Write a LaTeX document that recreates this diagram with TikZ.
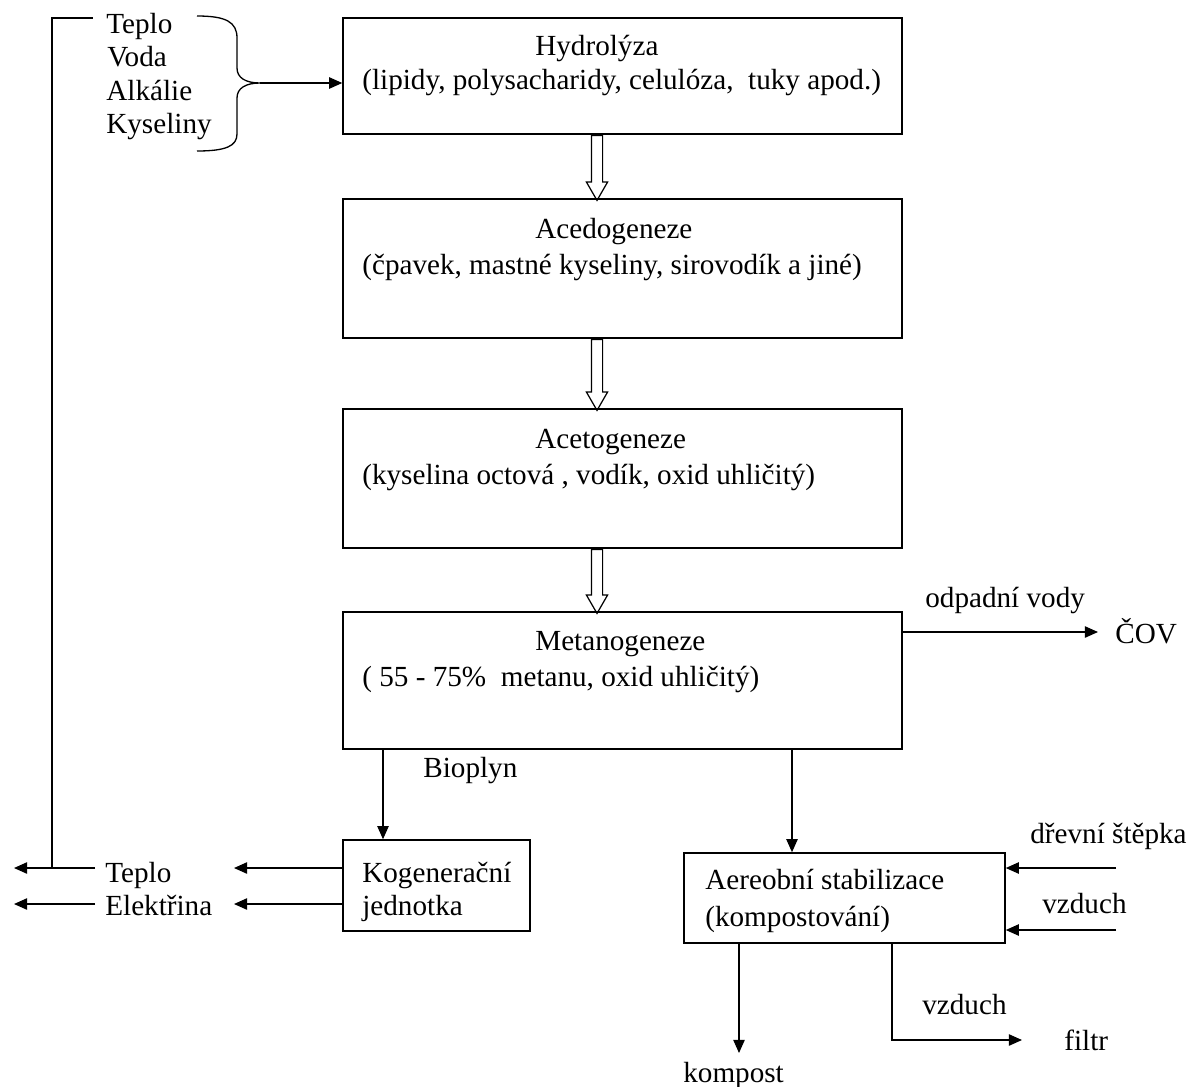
\documentclass[tikz,border=0pt]{standalone}
\usepackage{fontspec}
\setmainfont{Liberation Serif}
\usetikzlibrary{arrows.meta,shapes.arrows}

\tikzset{
  box/.style={draw, line width=0.9pt, rectangle, inner sep=0pt},
  lbl/.style={inner sep=0pt, anchor=base west},
  arr/.style={-{Triangle[length=7.5pt,width=6.5pt]}, line width=0.75pt},
  plain/.style={line width=0.75pt},
  hollow/.style={single arrow, draw, line width=0.7pt, shape border rotate=270,
    inner sep=0.1cm, single arrow head extend=0.1cm, single arrow tip angle=60,
    anchor=tail}
}

\begin{document}
\begin{tikzpicture}[x=0.02cm, y=-0.02cm, font=\fontsize{16.6}{20}\selectfont]
\useasboundingbox (0,0) rectangle (1200,1086);

% main chain
\node[box, minimum width=11.18cm, minimum height=2.32cm] (hyd) at (622.5,76) {};
\node[box, minimum width=11.18cm, minimum height=2.78cm] (ace) at (622.5,268.5) {};
\node[box, minimum width=11.18cm, minimum height=2.78cm] (act) at (622.5,478.5) {};
\node[box, minimum width=11.18cm, minimum height=2.74cm] (met) at (622.5,680.5) {};
\node[box, minimum width=3.74cm, minimum height=1.82cm] (kog) at (436.5,885.5) {};
\node[box, minimum width=6.42cm, minimum height=1.80cm] (aer) at (844.5,898) {};

\node[lbl] (hydT) at (535,55) {Hydrolýza};
\node[lbl] (hydD) at (362,89) {(lipidy, polysacharidy, celulóza,~ tuky apod.)};
\node[lbl] (aceT) at (535,238) {Acedogeneze};
\node[lbl] (aceD) at (362,274) {(čpavek, mastné kyseliny, sirovodík a jiné)};
\node[lbl] (actT) at (535,448) {Acetogeneze};
\node[lbl] (actD) at (362,484) {(kyselina octová , vodík, oxid uhličitý)};
\node[lbl] (metT) at (535,650) {Metanogeneze};
\node[lbl] (metD) at (362,686) {( 55 - 75\%~ metanu, oxid uhličitý)};
\node[lbl] (kogT) at (362,882) {Kogenerační};
\node[lbl] (kogD) at (362,915) {jednotka};
\node[lbl] (aerT) at (705,889) {Aereobní stabilizace};
\node[lbl] (aerD) at (705,926) {(kompostování)};

% inputs and outputs
\node[lbl] (teplo1) at (106,33) {Teplo};
\node[lbl] (voda) at (107,66) {Voda};
\node[lbl] (alk) at (106,100) {Alkálie};
\node[lbl] (kys) at (106,133) {Kyseliny};
\node[lbl] (teplo) at (105,882) {Teplo};
\node[lbl] (elek) at (105,915) {Elektřina};
\node[lbl] (bio) at (423,777) {Bioplyn};
\node[lbl] (odp) at (925,607) {odpadní vody};
\node[lbl] (cov) at (1115,643) {ČOV};
\node[lbl] (drev) at (1030,843) {dřevní štěpka};
\node[lbl] (vzd1) at (1042,913) {vzduch};
\node[lbl] (vzd2) at (922,1014) {vzduch};
\node[lbl] (filtr) at (1064,1050) {filtr};
\node[lbl] (komp) at (683,1082) {kompost};

% free ends
\coordinate (ha) at (597,0);
\coordinate (bx) at (383,0);
\coordinate (ax) at (792,0);
\coordinate (kx) at (739,0);
\coordinate (fx) at (892,0);
\coordinate (rowT) at (0,868);
\coordinate (rowE) at (0,904);
\coordinate (mid) at (234,0);
\coordinate (lst) at (95,0);
\coordinate (lft) at (14,0);
\coordinate (fb) at (52,0);
\coordinate (fbtop) at (93,18);
\coordinate (btip) at (260,83);
\coordinate (cy) at (0,632);
\coordinate (cend) at (1098,632);
\coordinate (win1) at (1116,868);
\coordinate (win2) at (1116,930);
\coordinate (kend) at (739,1053);
\coordinate (fend) at (1022,1040);

% brace
\draw[plain] (197,16) .. controls (226,16) and (237,22) .. (237,38) -- (237,68)
  .. controls (237,78) and (246,83) .. (btip)
  .. controls (246,83) and (237,88) .. (237,98) -- (237,134)
  .. controls (237,146) and (226,151) .. (197,151);
\draw[arr] (btip) -- (hyd.west |- btip);

% hollow arrows
\node[hollow, minimum height=1.30cm] (h1) at (hyd.south -| ha) {};
\node[hollow, minimum height=1.42cm] (h2) at (ace.south -| ha) {};
\node[hollow, minimum height=1.28cm] (h3) at (act.south -| ha) {};

% connectors
\draw[arr] (met.south -| bx) -- (kog.north -| bx);
\draw[arr] (met.south -| ax) -- (aer.north -| ax);
\draw[arr] (met.east |- cy) -- (cend);
\draw[arr] (win1) -- (aer.east |- win1);
\draw[arr] (win2) -- (aer.east |- win2);
\draw[arr] (aer.south -| kx) -- (kend);
\draw[arr] (aer.south -| fx) |- (fend);
\draw[arr] (kog.west |- rowT) -- (mid |- rowT);
\draw[arr] (kog.west |- rowE) -- (mid |- rowE);
\draw[arr] (lst |- rowT) -- (lft |- rowT);
\draw[arr] (lst |- rowE) -- (lft |- rowE);
\draw[plain] (fb |- rowT) |- (fbtop);

\end{tikzpicture}
\end{document}
